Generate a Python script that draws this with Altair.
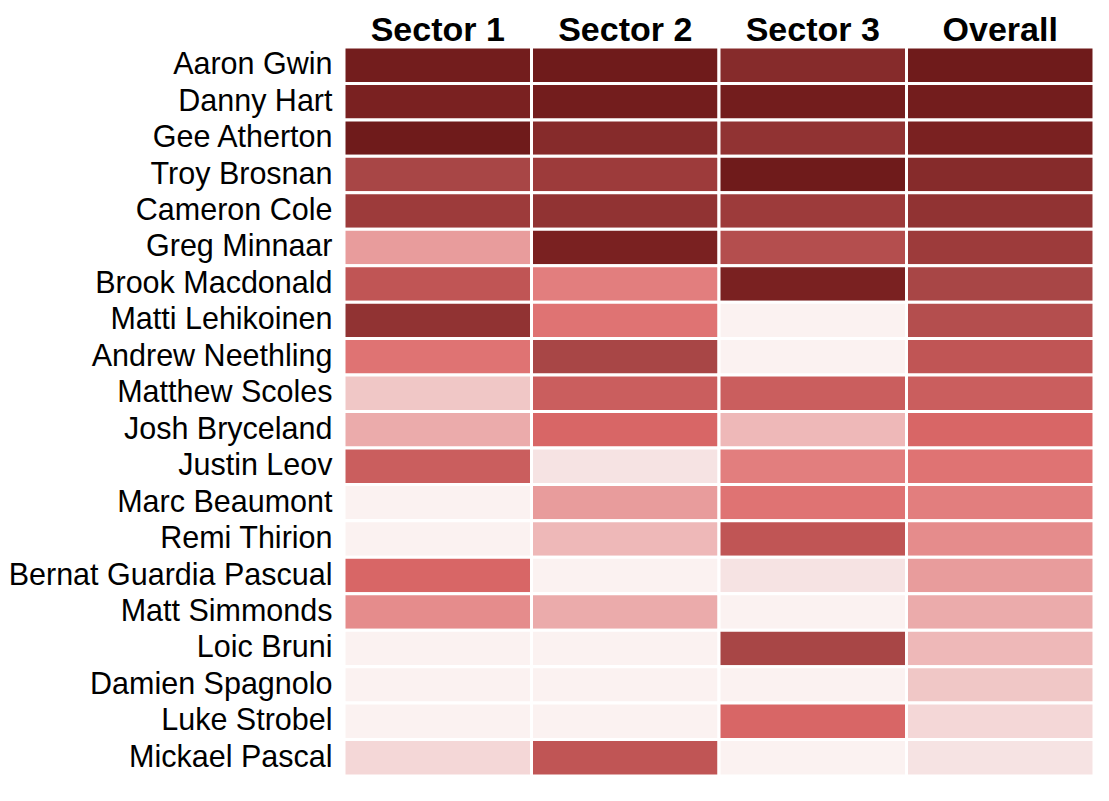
import altair as alt
import pandas as pd

riders = [
    "Aaron Gwin", "Danny Hart", "Gee Atherton", "Troy Brosnan", "Cameron Cole",
    "Greg Minnaar", "Brook Macdonald", "Matti Lehikoinen", "Andrew Neethling",
    "Matthew Scoles", "Josh Bryceland", "Justin Leov", "Marc Beaumont",
    "Remi Thirion", "Bernat Guardia Pascual", "Matt Simmonds", "Loic Bruni",
    "Damien Spagnolo", "Luke Strobel", "Mickael Pascal",
]
sectors = ["Sector 1", "Sector 2", "Sector 3", "Overall"]

# rank per sector (25 = outside the top 20)
sector1 = [2, 3, 1, 7, 6, 15, 9, 5, 12, 18, 16, 10, 25, 25, 11, 14, 25, 25, 25, 19]
sector2 = [1, 2, 4, 6, 5, 3, 13, 12, 7, 10, 11, 20, 15, 17, 25, 16, 25, 25, 25, 9]
sector3 = [4, 2, 5, 1, 6, 8, 3, 25, 25, 10, 17, 13, 12, 9, 20, 25, 7, 25, 11, 25]
overall = [1, 2, 3, 4, 5, 6, 7, 8, 9, 10, 11, 12, 13, 14, 15, 16, 17, 18, 19, 20]

rank_stops = [1, 2, 3, 4, 5, 6, 7, 8, 9, 10, 11, 12, 13, 14, 15, 16, 17, 18, 19, 20, 21]
rank_colors = [
    "#6f1b1b", "#731d1d", "#7a2121", "#862b2b", "#913333", "#9d3b3b", "#a84646",
    "#b44e4e", "#c05555", "#ca5e5e", "#d86666", "#df7373", "#e27e7e", "#e58c8c",
    "#e89c9c", "#ebabab", "#eeb8b8", "#f0c7c6", "#f4d7d7", "#f6e3e3", "#fbf2f1",
]

rows = []
for cols, name in zip([sector1, sector2, sector3, overall], sectors):
    for r, v in zip(riders, cols):
        rows.append({"rider": r, "sector": name, "rank": v})
df = pd.DataFrame(rows)

FONT = "Liberation Sans"

chart = alt.Chart(df).mark_rect(stroke="white", strokeWidth=3).encode(
    x=alt.X(
        "sector:N", sort=sectors, title=None,
        axis=alt.Axis(orient="top", labelFontSize=34, labelFontWeight="bold",
                      labelFont=FONT, labelColor="black", ticks=False,
                      domain=False, labelPadding=0, labelAngle=0),
    ),
    y=alt.Y(
        "rider:N", sort=riders, title=None,
        axis=alt.Axis(labelFontSize=30.5, labelFont=FONT, labelColor="black",
                      ticks=False, domain=False, labelPadding=12, labelLimit=0),
    ),
    color=alt.Color(
        "rank:Q",
        scale=alt.Scale(domain=rank_stops, range=rank_colors, clamp=True),
        legend=None,
    ),
).properties(
    width=750, height=729,
    padding={"left": 0, "top": 5, "right": 0, "bottom": 0},
).configure_view(stroke=None).configure_axis(grid=False)

chart.save("out.html", embed_options={"renderer": "svg", "actions": False})
